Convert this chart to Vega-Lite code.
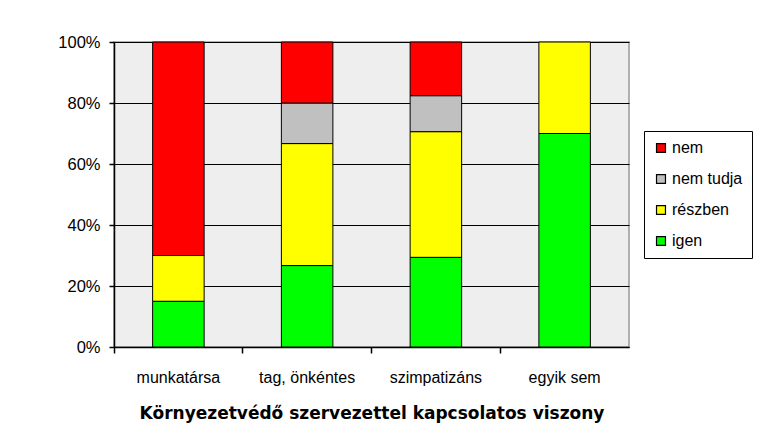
{
  "$schema": "https://vega.github.io/schema/vega-lite/v6.json",
  "width": 515,
  "height": 305,
  "padding": {"left": 57, "top": 34, "right": 5, "bottom": 5},
  "background": "white",
  "data": {"values": [
    {"viszony": "munkatársa", "valasz": "igen", "k": 1, "szazalek": 15},
    {"viszony": "munkatársa", "valasz": "részben", "k": 2, "szazalek": 15},
    {"viszony": "munkatársa", "valasz": "nem", "k": 4, "szazalek": 70},
    {"viszony": "tag, önkéntes", "valasz": "igen", "k": 1, "szazalek": 26.7},
    {"viszony": "tag, önkéntes", "valasz": "részben", "k": 2, "szazalek": 40},
    {"viszony": "tag, önkéntes", "valasz": "nem tudja", "k": 3, "szazalek": 13.3},
    {"viszony": "tag, önkéntes", "valasz": "nem", "k": 4, "szazalek": 20},
    {"viszony": "szimpatizáns", "valasz": "igen", "k": 1, "szazalek": 29.4},
    {"viszony": "szimpatizáns", "valasz": "részben", "k": 2, "szazalek": 41.2},
    {"viszony": "szimpatizáns", "valasz": "nem tudja", "k": 3, "szazalek": 11.8},
    {"viszony": "szimpatizáns", "valasz": "nem", "k": 4, "szazalek": 17.6},
    {"viszony": "egyik sem", "valasz": "igen", "k": 1, "szazalek": 70},
    {"viszony": "egyik sem", "valasz": "részben", "k": 2, "szazalek": 30}
  ]},
  "mark": {"type": "bar", "stroke": "black", "strokeWidth": 1, "width": {"band": 0.4}},
  "encoding": {
    "x": {
      "field": "viszony", "type": "nominal",
      "sort": ["munkatársa", "tag, önkéntes", "szimpatizáns", "egyik sem"],
      "scale": {"paddingInner": 0, "paddingOuter": 0},
      "axis": {
        "title": "Környezetvédő szervezettel kapcsolatos viszony",
        "titleFont": "DejaVu Sans", "titleFontSize": 17, "titleFontWeight": "bold", "titleColor": "black",
        "titlePadding": 20,
        "labelAngle": 0, "labelFont": "Liberation Sans", "labelFontSize": 16, "labelColor": "black",
        "labelPadding": 16,
        "bandPosition": 0, "tickSize": 6, "tickColor": "black", "domainColor": "black", "grid": false
      }
    },
    "y": {
      "field": "szazalek", "type": "quantitative", "stack": "normalize",
      "scale": {"domain": [0, 1]},
      "axis": {
        "title": null, "format": ".0%", "values": [0, 0.2, 0.4, 0.6, 0.8, 1],
        "labelFont": "Liberation Sans", "labelFontSize": 16.5, "labelColor": "black", "labelPadding": 9,
        "tickSize": 5, "tickColor": "black", "domainColor": "black",
        "grid": true, "gridColor": "black", "gridOpacity": 1
      }
    },
    "color": {
      "field": "valasz", "type": "nominal",
      "scale": {"domain": ["nem", "nem tudja", "részben", "igen"], "range": ["#FF0000", "#C0C0C0", "#FFFF00", "#00FF00"]},
      "legend": {
        "title": null, "orient": "none", "legendX": 530, "legendY": 89,
        "symbolType": "square", "symbolSize": 80, "symbolStrokeColor": "black", "symbolStrokeWidth": 1.2,
        "labelFont": "Liberation Sans", "labelFontSize": 16, "labelColor": "black", "labelOffset": 3,
        "rowPadding": 15, "padding": 9, "strokeColor": "black", "fillColor": "white",
        "symbolOpacity": 1
      }
    },
    "order": {"field": "k", "type": "quantitative"}
  },
  "config": {
    "view": {"fill": "#EEEEEE", "stroke": "#999999", "strokeWidth": 1.5},
    "axis": {"domainWidth": 1.5, "tickWidth": 1.5}
  }
}
